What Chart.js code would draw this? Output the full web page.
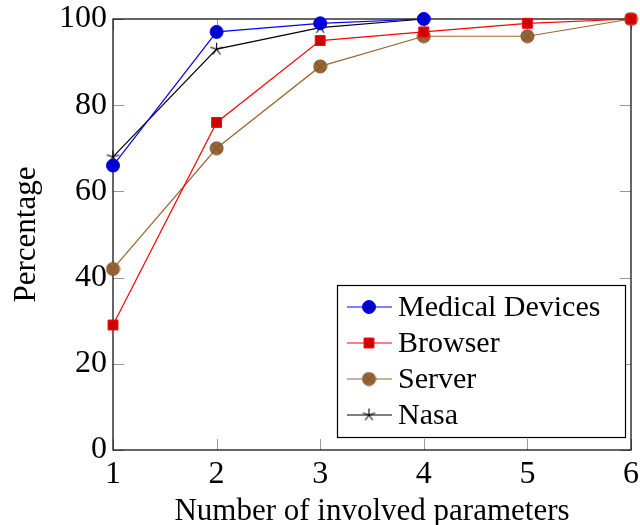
<!DOCTYPE html>
<html lang="en">
  <head>
    <meta charset="UTF-8" />
    <title>Percentage vs number of involved parameters</title>
    <script src="https://cdn.jsdelivr.net/npm/chart.js@4"></script>
    <style>
      html, body { margin: 0; padding: 0; background: #fff; }
      #wrap { width: 640px; height: 525px; }
    </style>
  </head>
  <body>
    <div id="wrap"><canvas id="myChart" width="640" height="525"></canvas></div>
    <script>
      // data
      const xValues = [1, 2, 3, 4, 5, 6];
      const yTicks = [0, 20, 40, 60, 80, 100];
      const seriesNames = ["Medical Devices", "Browser", "Server", "Nasa"];
      const medical = [66, 97, 99, 100];
      const browser = [29, 76, 95, 97, 99, 100];
      const server = [42, 70, 89, 96, 96, 100];
      const nasa = [68, 93, 98, 100];

      const FONT = "'Liberation Serif', 'DejaVu Serif', serif";

      function pts(vals) {
        return vals.map((v, i) => ({ x: xValues[i], y: v }));
      }

      // ⊗ marker (pgfplots otimes*)
      function makeOtimes(r, fill, stroke) {
        const c = document.createElement("canvas");
        const s = Math.ceil(r * 2 + 2);
        c.width = s; c.height = s;
        const g = c.getContext("2d");
        const m = s / 2;
        g.fillStyle = fill;
        g.strokeStyle = stroke;
        g.lineWidth = 1;
        g.beginPath();
        g.arc(m, m, r, 0, Math.PI * 2);
        g.fill();
        g.stroke();
        const d = r * 0.707;
        g.beginPath();
        g.moveTo(m - d, m - d); g.lineTo(m + d, m + d);
        g.moveTo(m + d, m - d); g.lineTo(m - d, m + d);
        g.stroke();
        return c;
      }

      // 5-spoke star (pgfplots star)
      function makeStar(r, color) {
        const c = document.createElement("canvas");
        const s = Math.ceil(r * 2 + 2);
        c.width = s; c.height = s;
        const g = c.getContext("2d");
        const m = s / 2;
        g.strokeStyle = color;
        g.lineWidth = 1.1;
        g.beginPath();
        for (let k = 0; k < 5; k++) {
          const a = -Math.PI / 2 + (k * 2 * Math.PI) / 5;
          g.moveTo(m, m);
          g.lineTo(m + r * Math.cos(a), m + r * Math.sin(a));
        }
        g.stroke();
        return c;
      }

      const otimesImg = makeOtimes(6.5, "#996633", "#7a5229");
      const starImg = makeStar(6.5, "#000000");

      const styles = [
        { line: "#0000ff", fill: "#0000cc", border: "#0000ff", pointStyle: "circle", radius: 6.5 },
        { line: "#ff0000", fill: "#cc0000", border: "#ff0000", pointStyle: "rect", radius: 7 },
        { line: "#996633", fill: "#996633", border: "#996633", pointStyle: otimesImg, radius: 6.5 },
        { line: "#000000", fill: "#000000", border: "#000000", pointStyle: starImg, radius: 6.5 },
      ];
      const seriesData = [medical, browser, server, nasa];

      const datasets = seriesData.map((vals, i) => ({
        label: seriesNames[i],
        data: pts(vals),
        borderColor: styles[i].line,
        borderWidth: 1.2,
        backgroundColor: styles[i].fill,
        pointBackgroundColor: styles[i].fill,
        pointBorderColor: styles[i].border,
        pointBorderWidth: 1,
        pointStyle: styles[i].pointStyle,
        pointRadius: styles[i].radius,
        pointHoverRadius: styles[i].radius,
        tension: 0,
        clip: false,
      }));

      // frame + inward mirrored ticks
      const framePlugin = {
        id: "frame",
        beforeDatasetsDraw(chart) {
          const { ctx, chartArea: a, scales } = chart;
          const tl = 11;
          ctx.save();
          ctx.strokeStyle = "#9a9a9a";
          ctx.lineWidth = 1;
          ctx.beginPath();
          xValues.forEach((v) => {
            const x = Math.round(scales.x.getPixelForValue(v)) + 0.5;
            ctx.moveTo(x, a.bottom); ctx.lineTo(x, a.bottom - tl);
            ctx.moveTo(x, a.top); ctx.lineTo(x, a.top + tl);
          });
          yTicks.forEach((v) => {
            const y = Math.round(scales.y.getPixelForValue(v)) + 0.5;
            ctx.moveTo(a.left, y); ctx.lineTo(a.left + tl, y);
            ctx.moveTo(a.right, y); ctx.lineTo(a.right - tl, y);
          });
          ctx.stroke();
          ctx.strokeStyle = "#000";
          ctx.lineWidth = 1.2;
          ctx.strokeRect(a.left, a.top, a.right - a.left, a.bottom - a.top);
          ctx.restore();
        },
        afterDatasetsDraw(chart) {
          // legend box in the lower right
          const { ctx } = chart;
          const bx = 337, by = 285, bw = 288, bh = 152;
          ctx.save();
          ctx.fillStyle = "#fff";
          ctx.fillRect(bx, by, bw, bh);
          ctx.strokeStyle = "#000";
          ctx.lineWidth = 1.2;
          ctx.strokeRect(bx + 0.5, by + 0.5, bw, bh);
          chart.data.datasets.forEach((ds, i) => {
            const cy = by + 22 + i * 36;
            ctx.strokeStyle = ds.borderColor;
            ctx.lineWidth = 1.2;
            ctx.beginPath();
            ctx.moveTo(bx + 10, cy); ctx.lineTo(bx + 55, cy);
            ctx.stroke();
            ctx.fillStyle = ds.pointBackgroundColor;
            ctx.strokeStyle = ds.pointBorderColor;
            ctx.lineWidth = 1;
            Chart.helpers.drawPoint(ctx, {
              pointStyle: ds.pointStyle,
              radius: ds.pointRadius,
              borderWidth: 1,
              rotation: 0,
            }, bx + 32, cy);
            ctx.fillStyle = "#000";
            ctx.font = "30px " + FONT;
            ctx.textBaseline = "middle";
            ctx.textAlign = "left";
            ctx.fillText(ds.label, bx + 61, cy + 1);
          });
          ctx.restore();
        },
      };

      new Chart(document.getElementById("myChart"), {
        type: "line",
        data: { datasets },
        options: {
          responsive: false,
          animation: false,
          events: [],
          layout: { padding: { left: 0, top: 19, right: 9, bottom: 0 } },
          plugins: { legend: { display: false }, tooltip: { enabled: false } },
          scales: {
            x: {
              type: "linear",
              min: 1,
              max: 6,
              afterFit: (s) => { s.height = 75; s.paddingLeft = 0; s.paddingRight = 0; },
              afterBuildTicks: (s) => { s.ticks = xValues.map((v) => ({ value: v })); },
              grid: { display: false, drawTicks: false },
              border: { display: false },
              ticks: { color: "#000", padding: 5, font: { family: FONT, size: 32 } },
              title: {
                display: true,
                text: "Number of involved parameters",
                color: "#000",
                font: { family: FONT, size: 31 },
                padding: { top: 6, bottom: -5 },
              },
            },
            y: {
              min: 0,
              max: 100,
              afterFit: (s) => { s.width = 113; s.paddingTop = 0; s.paddingBottom = 0; },
              afterBuildTicks: (s) => { s.ticks = yTicks.map((v) => ({ value: v })); },
              grid: { display: false, drawTicks: false },
              border: { display: false },
              ticks: { color: "#000", padding: 6, font: { family: FONT, size: 32 } },
              title: {
                display: true,
                text: "Percentage",
                color: "#000",
                font: { family: FONT, size: 31 },
                padding: { top: 8, bottom: 0 },
              },
            },
          },
        },
        plugins: [framePlugin],
      });
    </script>
  </body>
</html>
